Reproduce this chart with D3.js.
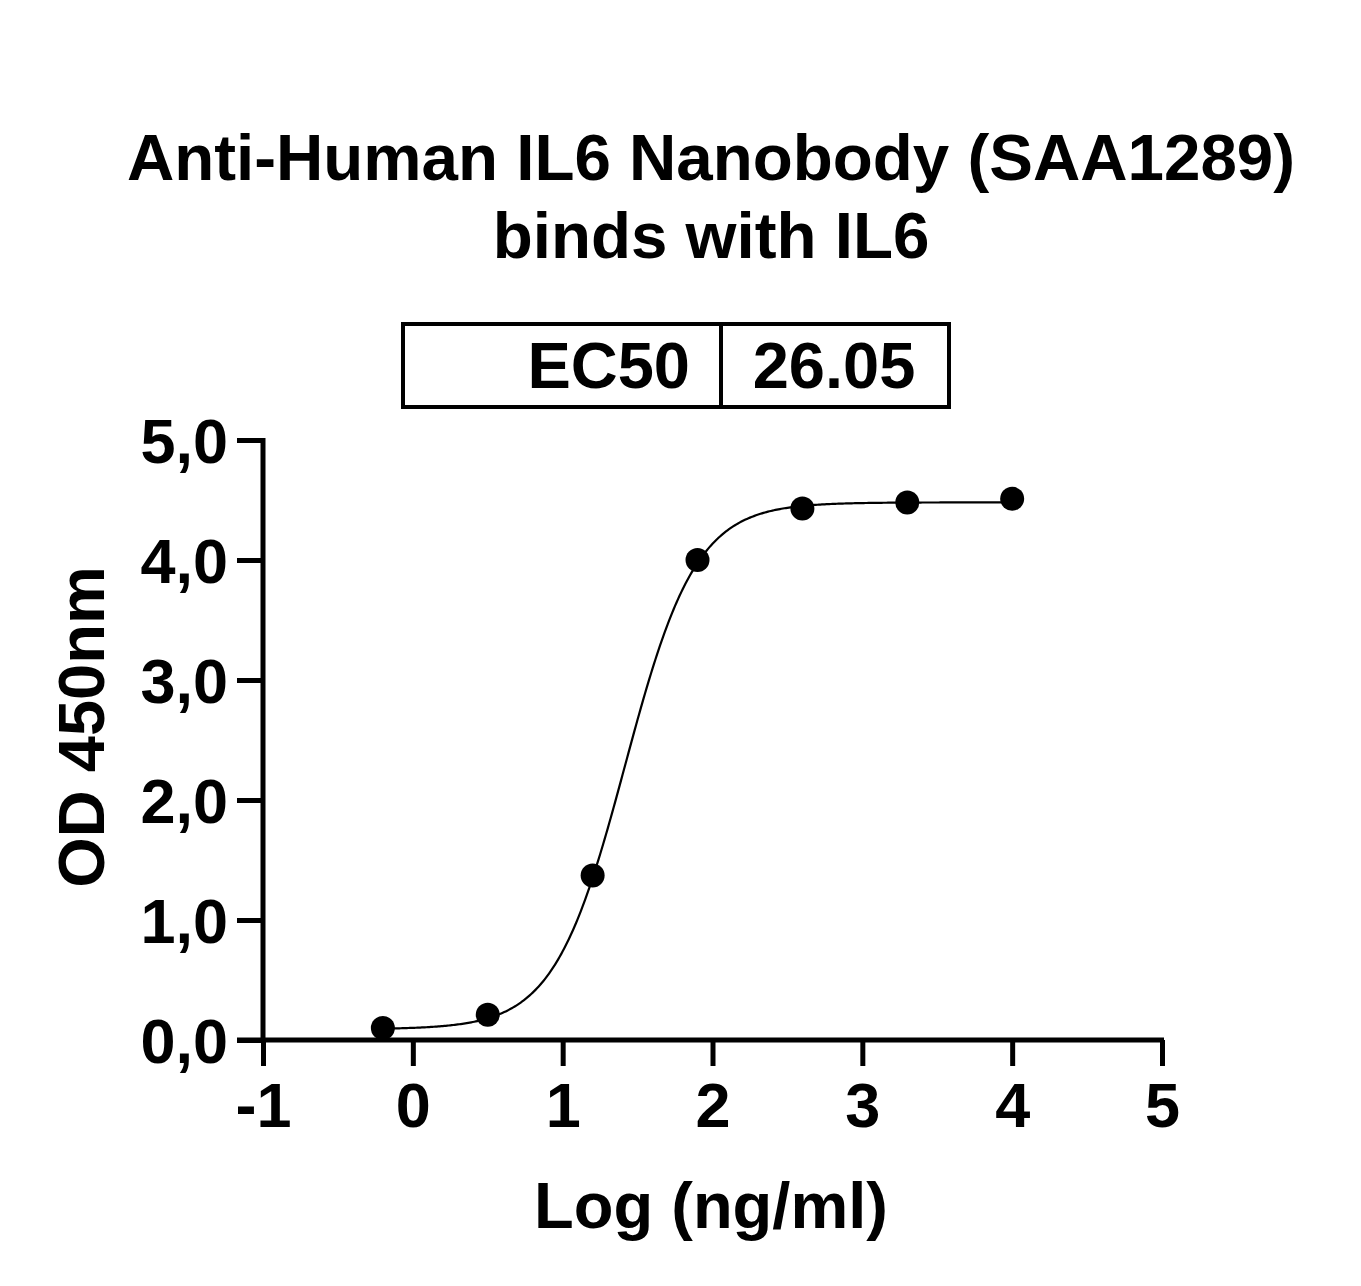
<!DOCTYPE html>
<html><head><meta charset="utf-8">
<script src="https://cdn.jsdelivr.net/npm/d3@7"></script>
<style>
html,body{margin:0;padding:0;background:#fff;}
text{font-family:"Liberation Sans",Arial,sans-serif;font-weight:bold;fill:#000;}
</style></head>
<body>
<svg id="c" width="1361" height="1286"></svg>
<script>
// Data
const logConc = [-0.2, 0.5, 1.2, 1.9, 2.6, 3.3, 4.0];
const od450 = [0.10, 0.21, 1.37, 4.00, 4.43, 4.48, 4.51];
const xTicks = [-1, 0, 1, 2, 3, 4, 5];
const yTicks = [0, 1, 2, 3, 4, 5];
const titleLines = ["Anti-Human IL6 Nanobody (SAA1289)", "binds with IL6"];
const ec50Label = "EC50";
const ec50Value = "26.05";
// 4PL fit parameters
const fitBottom = 0.09, fitTop = 4.48, fitLogEC50 = Math.log10(26.05), fitHill = 1.83;

const svg = d3.select("#c");
const x = d3.scaleLinear().domain([-1, 5]).range([263, 1162]);
const y = d3.scaleLinear().domain([0, 5]).range([1040, 440]);

// Title
svg.selectAll("text.title").data(titleLines).enter().append("text")
  .attr("x", 711).attr("y", (d, i) => 180 + i * 78)
  .attr("text-anchor", "middle").attr("font-size", 65.5).text(d => d);

// EC50 box
const box = svg.append("g");
box.append("rect").attr("x", 403).attr("y", 324).attr("width", 546).attr("height", 83)
  .attr("fill", "none").attr("stroke", "#000").attr("stroke-width", 4);
box.append("line").attr("x1", 721).attr("x2", 721).attr("y1", 324).attr("y2", 407)
  .attr("stroke", "#000").attr("stroke-width", 4);
box.append("text").attr("x", 690).attr("y", 388).attr("text-anchor", "end")
  .attr("font-size", 65).text(ec50Label);
box.append("text").attr("x", 834).attr("y", 388).attr("text-anchor", "middle")
  .attr("font-size", 65).text(ec50Value);

// Axes
const xAxis = d3.axisBottom(x).tickValues(xTicks).tickSize(26).tickPadding(14)
  .tickFormat(d => String(d));
const gx = svg.append("g").attr("transform", "translate(0,1040)").call(xAxis);
gx.select(".domain").remove();
gx.append("line").attr("x1", 237).attr("x2", 1164).attr("y1", 0).attr("y2", 0)
  .attr("stroke", "#000").attr("stroke-width", 5);
gx.selectAll(".tick line").attr("stroke", "#000").attr("stroke-width", 5);
gx.selectAll(".tick text").attr("font-size", 63).attr("font-family", "Liberation Sans, Arial")
  .attr("font-weight", "bold").attr("fill", "#000").attr("dy", "0.75em");

const yAxis = d3.axisLeft(y).tickValues(yTicks).tickSize(26).tickPadding(9)
  .tickFormat(d => d3.format(".1f")(d).replace(".", ","));
const gy = svg.append("g").attr("transform", "translate(263,0)").call(yAxis);
gy.select(".domain").remove();
gy.append("line").attr("x1", 0).attr("x2", 0).attr("y1", 438).attr("y2", 1042)
  .attr("stroke", "#000").attr("stroke-width", 5);
gy.selectAll(".tick line").attr("stroke", "#000").attr("stroke-width", 5);
gy.selectAll(".tick text").attr("font-size", 63).attr("font-family", "Liberation Sans, Arial")
  .attr("font-weight", "bold").attr("fill", "#000").attr("dy", "0.36em");

// Axis titles
svg.append("text").attr("x", 711).attr("y", 1228).attr("text-anchor", "middle")
  .attr("font-size", 65).text("Log (ng/ml)");
svg.append("text").attr("transform", "translate(104,727) rotate(-90)")
  .attr("text-anchor", "middle").attr("font-size", 65).text("OD 450nm");

// Fitted curve
const curveX = d3.range(0, 421).map(i => -0.2 + i * 0.01);
const fit = v => fitBottom + (fitTop - fitBottom) / (1 + Math.pow(10, (fitLogEC50 - v) * fitHill));
svg.append("path").datum(curveX)
  .attr("d", d3.line().x(d => x(d)).y(d => y(fit(d))))
  .attr("fill", "none").attr("stroke", "#000").attr("stroke-width", 2.2);

// Points
svg.selectAll("circle.pt").data(logConc).enter().append("circle")
  .attr("cx", d => x(d)).attr("cy", (d, i) => y(od450[i])).attr("r", 12).attr("fill", "#000");
</script>
</body></html>
